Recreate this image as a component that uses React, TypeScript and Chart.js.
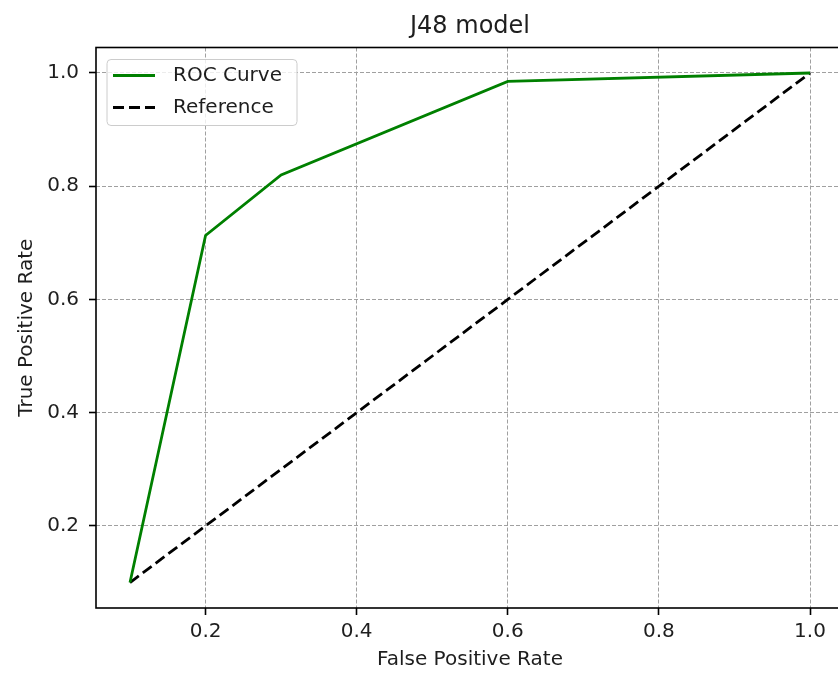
import React, { useEffect, useRef } from "react";
import { Chart, registerables } from "chart.js";

Chart.register(...registerables);

// ---- data ----
const fpr = [0.1, 0.2, 0.3, 0.6, 1.0];
const tpr = [0.1, 0.713, 0.82, 0.985, 1.0];
const refX = [0.1, 1.0];
const refY = [0.1, 1.0];
const xTicks = [0.2, 0.4, 0.6, 0.8, 1.0];
const yTicks = [0.2, 0.4, 0.6, 0.8, 1.0];
const seriesNames = ["ROC Curve", "Reference"];
const titleText = "J48 model";
const xLabel = "False Positive Rate";
const yLabel = "True Positive Rate";
const axisMin = 0.055;
const axisMax = 1.045;

const FONT = "'DejaVu Sans', sans-serif";
const TEXT = "#1e1e1e";
const GREEN = "#008000";

const overlay = {
  id: "mplOverlay",
  afterDraw(chart: any) {
    const { ctx, chartArea } = chart;
    const { left, top, right, bottom } = chartArea;
    ctx.save();
    // frame (spines)
    ctx.setLineDash([]);
    ctx.strokeStyle = "#000";
    ctx.lineWidth = 1.6;
    ctx.strokeRect(left, top, right - left, bottom - top);

    // title
    ctx.fillStyle = TEXT;
    ctx.font = `24px ${FONT}`;
    ctx.textAlign = "center";
    ctx.textBaseline = "middle";
    ctx.fillText(titleText, (left + right) / 2, 27);

    // legend
    const lx = left + 11;
    const ly = top + 12;
    const lw = 190;
    const lh = 66;
    ctx.beginPath();
    if (ctx.roundRect) ctx.roundRect(lx, ly, lw, lh, 4);
    else ctx.rect(lx, ly, lw, lh);
    ctx.fillStyle = "rgba(255,255,255,0.8)";
    ctx.fill();
    ctx.strokeStyle = "#cccccc";
    ctx.lineWidth = 1;
    ctx.stroke();

    const rows = [
      { name: seriesNames[0], color: GREEN, dash: [] as number[] },
      { name: seriesNames[1], color: "#000", dash: [11, 5] },
    ];
    rows.forEach((r, i) => {
      const y = ly + 16 + i * 32;
      ctx.beginPath();
      ctx.setLineDash(r.dash);
      ctx.strokeStyle = r.color;
      ctx.lineWidth = 2.8;
      ctx.moveTo(lx + 6, y);
      ctx.lineTo(lx + 48, y);
      ctx.stroke();
      ctx.setLineDash([]);
      ctx.fillStyle = TEXT;
      ctx.font = `20px ${FONT}`;
      ctx.textAlign = "left";
      ctx.textBaseline = "middle";
      ctx.fillText(r.name, lx + 66, y);
    });
    ctx.restore();
  },
};

export default function App() {
  const ref = useRef<HTMLCanvasElement | null>(null);

  useEffect(() => {
    if (!ref.current) return;
    const rocData = fpr.map((x, i) => ({ x, y: tpr[i] }));
    const refData = refX.map((x, i) => ({ x, y: refY[i] }));

    const gridCommon = {
      color: "#a0a0a0",
      lineWidth: 1,
      drawTicks: true,
      tickLength: 7,
      tickColor: "#000",
      tickWidth: 1.6,
      tickBorderDash: [],
    };

    const chart = new Chart(ref.current, {
      type: "scatter",
      data: {
        datasets: [
          {
            label: seriesNames[0],
            data: rocData,
            showLine: true,
            borderColor: GREEN,
            backgroundColor: GREEN,
            borderWidth: 2.8,
            pointRadius: 0,
            tension: 0,
          },
          {
            label: seriesNames[1],
            data: refData,
            showLine: true,
            borderColor: "#000",
            backgroundColor: "#000",
            borderWidth: 2.8,
            borderDash: [11, 5],
            pointRadius: 0,
            tension: 0,
          },
        ],
      },
      options: {
        animation: false,
        responsive: false,
        devicePixelRatio: 1,
        layout: { padding: { left: 0, right: 16, top: 47.5, bottom: 0 } },
        plugins: {
          legend: { display: false },
          title: { display: false },
          tooltip: { enabled: false },
        },
        scales: {
          x: {
            type: "linear",
            min: axisMin,
            max: axisMax,
            afterBuildTicks: (scale: any) => {
              scale.ticks = xTicks.map((v) => ({ value: v }));
            },
            afterFit: (scale: any) => {
              scale.height = 65;
            },
            ticks: {
              color: TEXT,
              font: { family: FONT, size: 20 },
              padding: 5,
              maxRotation: 0,
              autoSkip: false,
              callback: (v: any) => Number(v).toFixed(1),
            },
            grid: gridCommon,
            border: { display: false, dash: [4, 2] },
            title: {
              display: true,
              text: xLabel,
              color: TEXT,
              font: { family: FONT, size: 20 },
              padding: { top: 0, bottom: 1 },
            },
          },
          y: {
            type: "linear",
            min: axisMin,
            max: axisMax,
            afterBuildTicks: (scale: any) => {
              scale.ticks = yTicks.map((v) => ({ value: v }));
            },
            afterFit: (scale: any) => {
              scale.width = 96;
            },
            ticks: {
              color: TEXT,
              font: { family: FONT, size: 20 },
              padding: 10,
              autoSkip: false,
              callback: (v: any) => Number(v).toFixed(1),
            },
            grid: gridCommon,
            border: { display: false, dash: [4, 2] },
            title: {
              display: true,
              text: yLabel,
              color: TEXT,
              font: { family: FONT, size: 20 },
              padding: { top: 15, bottom: 0 },
            },
          },
        },
      } as any,
      plugins: [overlay],
    });
    return () => chart.destroy();
  }, []);

  return (
    <div
      style={{
        position: "fixed",
        left: 0,
        top: 0,
        width: 838,
        height: 673,
        overflow: "hidden",
        background: "#fff",
      }}
    >
      <canvas ref={ref} width={860} height={673} style={{ display: "block" }} />
    </div>
  );
}
